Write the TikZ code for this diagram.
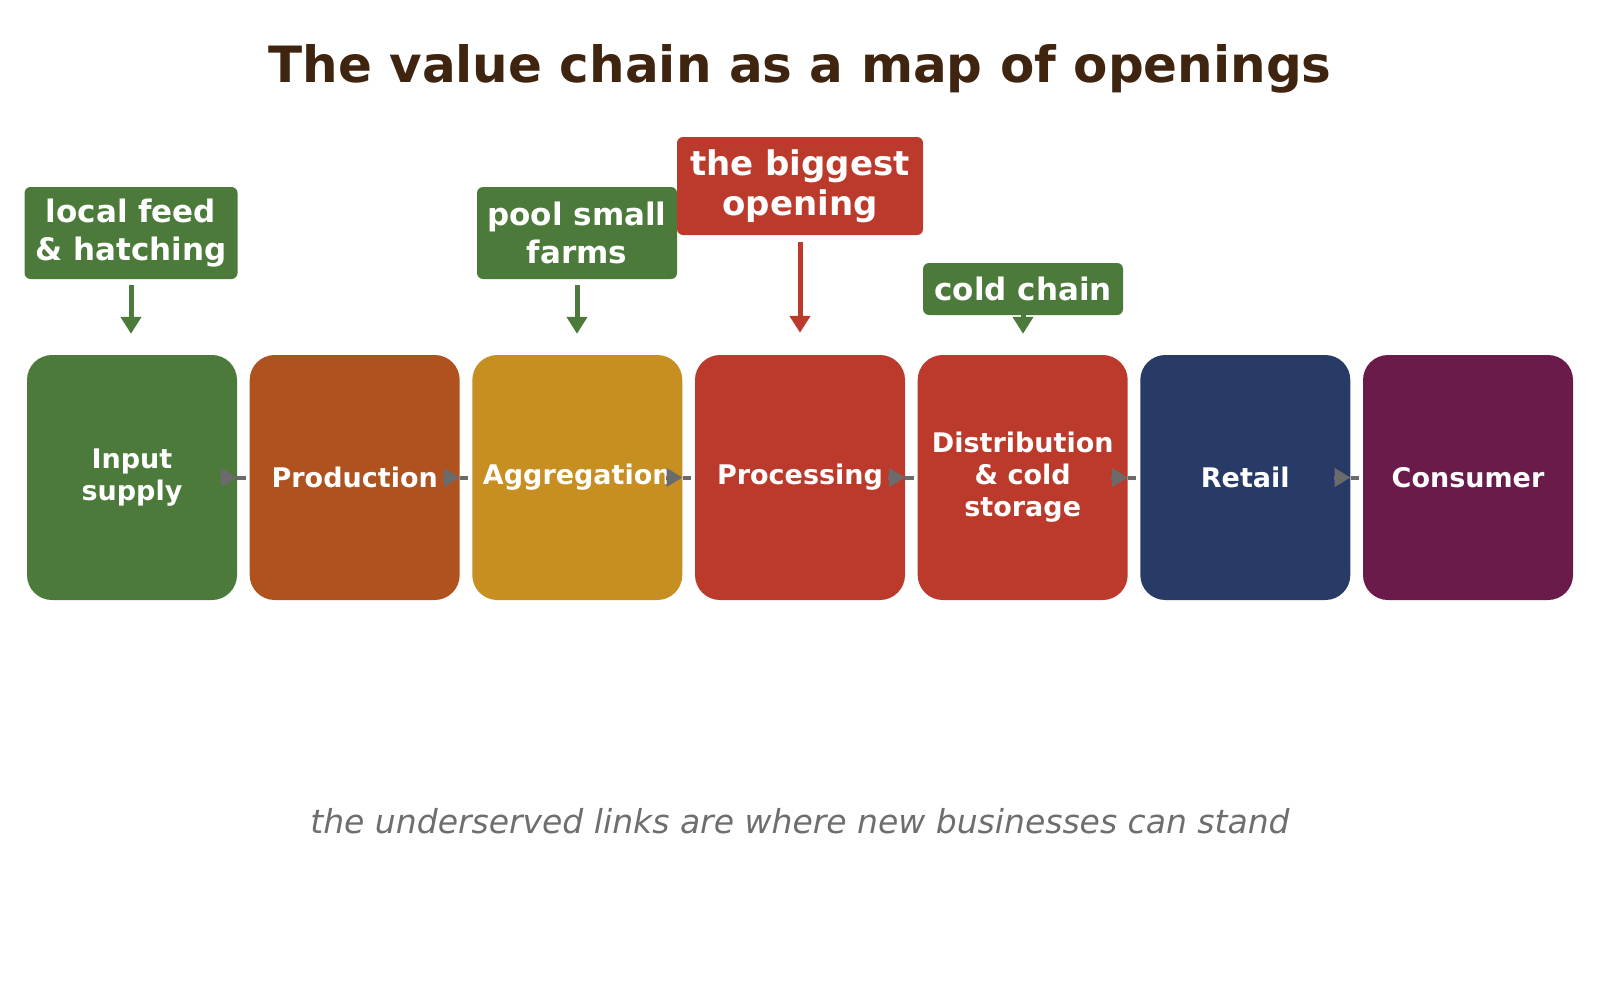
\documentclass[tikz,border=0pt]{standalone}
\usepackage{fontspec}
\setmainfont{DejaVu Sans}
\usetikzlibrary{arrows.meta}
\definecolor{cgreen}{HTML}{4B7A3A}
\definecolor{cprod}{HTML}{B0521F}
\definecolor{cagg}{HTML}{C78E22}
\definecolor{cred}{HTML}{BC3A2B}
\definecolor{cnavy}{HTML}{283B67}
\definecolor{cpurple}{HTML}{6A1B4A}
\definecolor{ctitle}{HTML}{3F2410}
\definecolor{cgray}{HTML}{6B6B6B}
\definecolor{cfoot}{HTML}{6E6E6E}
\tikzset{
  stage/.style={rounded corners=25pt, minimum width=210pt, minimum height=245pt,
    inner sep=0pt, text=white, align=center,
    font=\bfseries\fontsize{27}{32}\selectfont},
  callout/.style={rounded corners=6pt, inner sep=0pt, text=white, align=center,
    font=\bfseries\fontsize{31}{38}\selectfont},
  garrow/.style={line width=5pt, -{Triangle[length=17pt,width=20pt]}},
  glink/.style={cgray, line width=4pt},
  gtip/.style={cgray, line width=4pt, -{Triangle[length=16pt,width=18pt]}}
}
\begin{document}
\begin{tikzpicture}[x=1pt,y=-1pt]
\useasboundingbox (0,0) rectangle (1600,993);
% title
\node[anchor=base, text=ctitle, font=\bfseries\fontsize{50}{60}\selectfont] (title) at (800,82) {The value chain as a map of openings};
% stages
\node[stage, fill=cgreen]  (b1) at (132,477.5) {Input\\supply};
\node[stage, fill=cprod]   (b2) at (354.7,477.5) {Production};
\node[stage, fill=cagg]    (b3) at (577.3,477.5) {Aggregation};
\node[stage, fill=cred]    (b4) at (800,477.5) {Processing};
\node[stage, fill=cred]    (b5) at (1022.7,477.5) {Distribution\\\& cold\\storage};
\node[stage, fill=cnavy]   (b6) at (1245.3,477.5) {Retail};
\node[stage, fill=cpurple] (b7) at (1468,477.5) {Consumer};
% links between stages
\foreach \a/\b in {b1/b2,b2/b3,b3/b4,b4/b5,b5/b6,b6/b7}{
  \draw[glink] (\a.east) -- ([xshift=-4pt]\b.west);
  \draw[gtip] ([xshift=-17pt]\a.east) -- (\a.east);
}
% callouts
\node[callout, fill=cgreen, minimum width=213pt, minimum height=92pt] (c1) at (131,233) {local feed\\\& hatching};
\node[callout, fill=cgreen, minimum width=200pt, minimum height=92pt] (c2) at (577,233) {pool small\\farms};
\node[callout, fill=cred, minimum width=246pt, minimum height=98pt, font=\bfseries\fontsize{34}{40}\selectfont] (c3) at (800,186) {the biggest\\opening};
\node[callout, fill=cgreen, minimum width=200pt, minimum height=52pt] (c4) at (1023,289) {cold chain};
% callout arrows
\draw[garrow, cgreen] ([yshift=-6pt]c1.south) -- ([yshift=21pt]c1.south |- b1.north);
\draw[garrow, cgreen] ([yshift=-6pt]c2.south) -- ([yshift=21pt]c2.south |- b3.north);
\draw[garrow, cred] ([yshift=-7pt]c3.south) -- ([yshift=22pt]c3.south |- b4.north);
\draw[garrow, cgreen] ([yshift=1pt]c4.south) -- ([yshift=21pt]c4.south |- b5.north);
% footer
\node[anchor=base, text=cfoot, font=\itshape\fontsize{33}{40}\selectfont] (foot) at (800,833) {the underserved links are where new businesses can stand};
\end{tikzpicture}
\end{document}
